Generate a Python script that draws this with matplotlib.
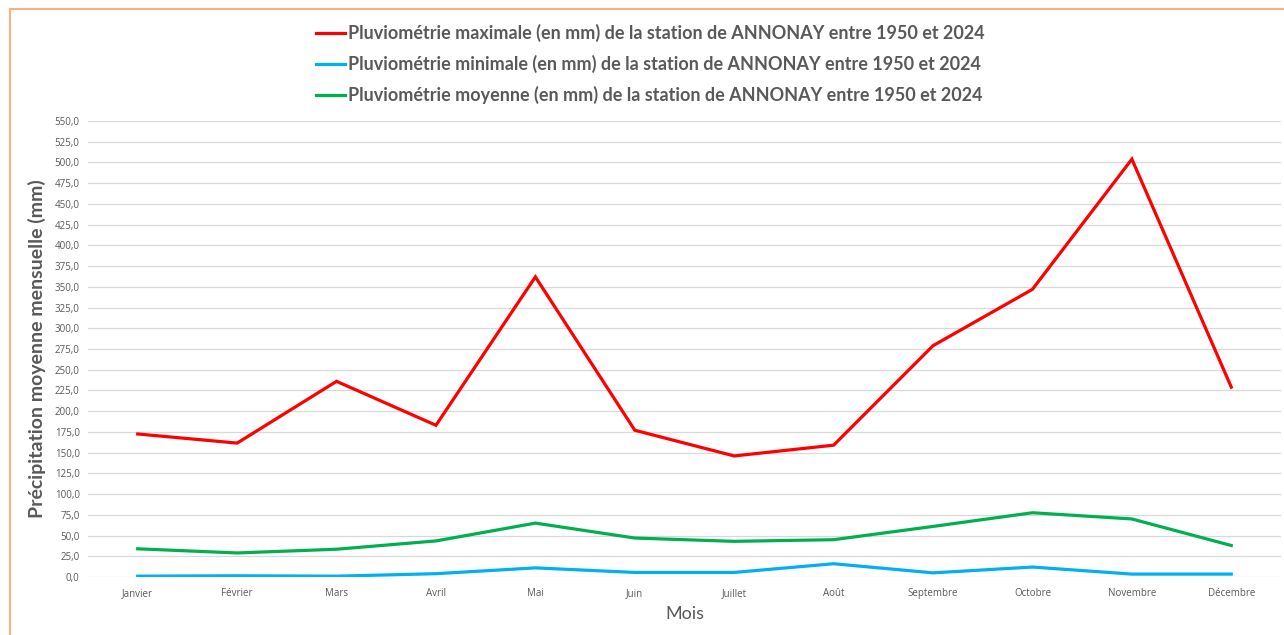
import matplotlib
matplotlib.use("Agg")
import matplotlib.pyplot as plt
from matplotlib.ticker import FuncFormatter, MultipleLocator
from matplotlib.lines import Line2D

months = ["Janvier", "Février", "Mars", "Avril", "Mai", "Juin", "Juillet",
          "Août", "Septembre", "Octobre", "Novembre", "Décembre"]
pluvio_max = [172.5, 161.5, 236.0, 183.0, 362.0, 177.0, 146.0, 159.0, 279.0, 347.0, 504.0, 229.0]
pluvio_min = [1.0, 1.5, 1.0, 4.0, 11.0, 5.5, 5.5, 16.0, 5.0, 12.0, 3.5, 3.5]
pluvio_moy = [34.0, 29.0, 33.5, 43.5, 65.0, 47.0, 43.0, 45.0, 61.0, 77.5, 70.0, 38.0]
labels = [
    "Pluviométrie maximale (en mm) de la station de ANNONAY entre 1950 et 2024",
    "Pluviométrie minimale (en mm) de la station de ANNONAY entre 1950 et 2024",
    "Pluviométrie moyenne (en mm) de la station de ANNONAY entre 1950 et 2024",
]

W, H = 1284, 635
fig = plt.figure(figsize=(W / 100, H / 100), dpi=100)
fig.patch.set_facecolor("white")

# orange frame (top and left visible)
fig.add_artist(Line2D([10 / W, 1.0], [1 - 9 / H, 1 - 9 / H], color="#F4B183", lw=1.5,
                      transform=fig.transFigure))
fig.add_artist(Line2D([10 / W, 10 / W], [0.0, 1 - 9 / H], color="#F4B183", lw=1.5,
                      transform=fig.transFigure))

ax = fig.add_axes([88 / W, 1 - 577 / H, 1193 / W, 456 / H])
x = list(range(len(months)))
l1, = ax.plot(x, pluvio_max, color="#FF0000", lw=2.3, solid_joinstyle="miter", zorder=3)
l2, = ax.plot(x, pluvio_min, color="#00B0F0", lw=2.3, zorder=3)
l3, = ax.plot(x, pluvio_moy, color="#00B050", lw=2.3, zorder=3)

ax.set_xlim(-0.5, len(months) - 0.5)
ax.set_ylim(0, 550)
ax.yaxis.set_major_locator(MultipleLocator(25))
ax.yaxis.set_major_formatter(FuncFormatter(lambda v, p: f"{v:.1f}".replace(".", ",")))
ax.set_xticks(x)
ax.set_xticklabels(months)
ax.grid(axis="y", color="#D9D9D9", lw=0.9, zorder=0)
ax.set_axisbelow(True)
for s in ax.spines.values():
    s.set_visible(False)
ax.tick_params(axis="both", length=0, labelsize=7, labelcolor="#595959", pad=6)
ax.tick_params(axis="x", pad=8)
for t in ax.get_xticklabels() + ax.get_yticklabels():
    t.set_family("Open Sans")

ax.set_ylabel("Précipitation moyenne mensuelle (mm)", fontsize=14, fontweight="bold",
              color="#595959", family="Lato", labelpad=6)
fig.text(685 / W, 1 - 614 / H, "Mois", ha="center", va="center", fontsize=13,
         color="#595959", family="Lato")

leg = fig.legend([l1, l2, l3], labels, loc="upper left",
                 bbox_to_anchor=(316 / W, 1 - 24 / H), bbox_transform=fig.transFigure,
                 frameon=False, handlelength=1.6, handletextpad=0.15, labelspacing=0.72,
                 borderpad=0, borderaxespad=0,
                 prop={"family": "Lato", "weight": "bold", "size": 13})
for t in leg.get_texts():
    t.set_color("#595959")

fig.savefig("out.png", dpi=100, facecolor="white")
